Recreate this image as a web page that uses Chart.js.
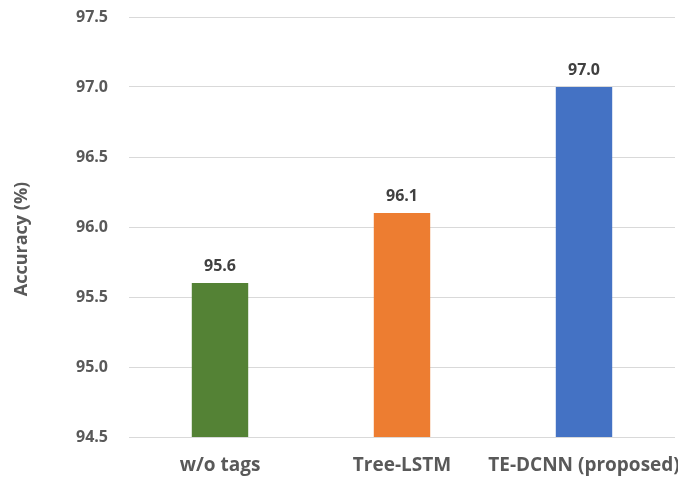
<!DOCTYPE html>
<html>
<head>
<meta charset="utf-8">
<script src="https://cdn.jsdelivr.net/npm/chart.js@4"></script>
<style>
  html, body { margin: 0; padding: 0; background: #fff; }
  #wrap { width: 678px; height: 477px; position: relative; }
</style>
</head>
<body>
<div id="wrap"><canvas id="chart"></canvas></div>
<script>
const categories = ['w/o tags', 'Tree-LSTM', 'TE-DCNN (proposed)'];
const accuracy = [95.6, 96.1, 97.0];
const barColors = ['#548235', '#ED7D31', '#4472C4'];
const yMin = 94.5;
const yMax = 97.5;
const yStep = 0.5;
const yTitle = 'Accuracy (%)';

const FONT = '"Open Sans", sans-serif';

// value labels above each bar, plus the y title (sits a bit below the axis middle)
const valueLabels = {
    id: 'valueLabels',
    afterDatasetsDraw(chart) {
        const ctx = chart.ctx;
        const meta = chart.getDatasetMeta(0);
        ctx.save();
        ctx.font = 'bold 16px ' + FONT;
        ctx.fillStyle = '#404040';
        ctx.textAlign = 'center';
        ctx.textBaseline = 'bottom';
        meta.data.forEach((bar, i) => {
            ctx.fillText(accuracy[i].toFixed(1), bar.x, bar.y - 9);
        });

        ctx.font = 'bold 18px ' + FONT;
        ctx.fillStyle = '#595959';
        ctx.textBaseline = 'middle';
        ctx.translate(22, 239);
        ctx.rotate(-Math.PI / 2);
        ctx.fillText(yTitle, 0, 0);
        ctx.restore();
    }
};

new Chart(document.getElementById('chart'), {
    type: 'bar',
    data: {
        labels: categories,
        datasets: [{
            data: accuracy,
            backgroundColor: barColors,
            categoryPercentage: 1,
            barPercentage: 0.31
        }]
    },
    options: {
        responsive: true,
        maintainAspectRatio: false,
        animation: false,
        layout: { padding: { top: 17, right: 3, left: 6, bottom: 0 } },
        plugins: {
            legend: { display: false },
            tooltip: { enabled: false }
        },
        scales: {
            x: {
                grid: { display: false },
                border: { display: false },
                ticks: {
                    color: '#595959',
                    font: { family: FONT, size: 19, weight: 'bold' },
                    padding: 9,
                    maxRotation: 0,
                    minRotation: 0,
                    autoSkip: false
                },
                afterFit: s => {
                    s.height = 40;
                    s.paddingLeft = 0;
                    s.paddingRight = 0;
                }
            },
            y: {
                min: yMin,
                max: yMax,
                border: { display: false },
                grid: { color: '#D9D9D9', drawTicks: true, tickLength: 17, tickColor: 'rgba(0,0,0,0)' },
                ticks: {
                    stepSize: yStep,
                    color: '#595959',
                    font: { family: FONT, size: 16, weight: 'bold' },
                    padding: 4,
                    callback: v => v.toFixed(1)
                },
                afterFit: s => { s.width = 123; }
            }
        }
    },
    plugins: [valueLabels]
});
</script>
</body>
</html>
